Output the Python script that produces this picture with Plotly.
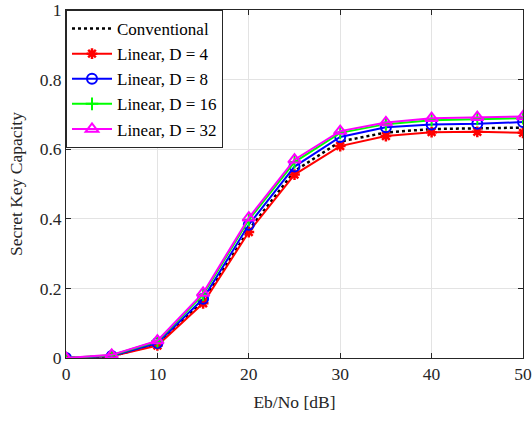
import plotly.graph_objects as go

ebno = [0, 5, 10, 15, 20, 25, 30, 35, 40, 45, 50]
conventional = [0.0, 0.005, 0.040, 0.163, 0.368, 0.537, 0.622, 0.648, 0.658, 0.660, 0.662]
linear_d4 = [0.0, 0.005, 0.036, 0.157, 0.362, 0.527, 0.609, 0.638, 0.649, 0.650, 0.647]
linear_d8 = [0.0, 0.006, 0.043, 0.170, 0.383, 0.550, 0.635, 0.663, 0.671, 0.673, 0.678]
linear_d16 = [0.0, 0.008, 0.048, 0.182, 0.397, 0.563, 0.647, 0.672, 0.683, 0.687, 0.689]
linear_d32 = [0.0, 0.009, 0.050, 0.187, 0.403, 0.570, 0.652, 0.677, 0.689, 0.692, 0.694]

font_family = "Liberation Serif, Times New Roman, serif"

fig = go.Figure()
fig.add_trace(go.Scatter(x=ebno, y=conventional, mode="lines", name="Conventional",
                         line=dict(color="black", width=2.5, dash="dot")))
fig.add_trace(go.Scatter(x=ebno, y=linear_d4, mode="lines+markers", name="Linear, D = 4",
                         line=dict(color="#ff0000", width=2),
                         marker=dict(symbol="asterisk-open", size=9, color="#ff0000",
                                     line=dict(color="#ff0000", width=2.5))))
fig.add_trace(go.Scatter(x=ebno, y=linear_d8, mode="lines+markers", name="Linear, D = 8",
                         line=dict(color="#0000ff", width=2),
                         marker=dict(symbol="circle-open", size=10, color="#0000ff",
                                     line=dict(color="#0000ff", width=2))))
fig.add_trace(go.Scatter(x=ebno, y=linear_d16, mode="lines+markers", name="Linear, D = 16",
                         line=dict(color="#00ff00", width=2),
                         marker=dict(symbol="cross-thin-open", size=9, color="#00ff00",
                                     line=dict(color="#00ff00", width=2))))
fig.add_trace(go.Scatter(x=ebno, y=linear_d32, mode="lines+markers", name="Linear, D = 32",
                         line=dict(color="#ff00ff", width=2),
                         marker=dict(symbol="triangle-up-open", size=11, color="#ff00ff",
                                     line=dict(color="#ff00ff", width=2))))

axis_common = dict(showgrid=True, gridcolor="#e3e3e3", gridwidth=1, automargin=False,
                   showline=True, linecolor="#262626", linewidth=1, mirror="ticks",
                   ticks="inside", ticklen=5, tickcolor="#262626", zeroline=False,
                   ticklabeloverflow="allow",
                   tickfont=dict(family=font_family, size=17.5, color="#262626"))

fig.update_layout(
    template="none",
    width=532, height=421,
    margin=dict(l=66, r=9, t=10, b=63, autoexpand=False),
    paper_bgcolor="white", plot_bgcolor="white",
    font=dict(family=font_family, size=17.5, color="#262626"),
    xaxis=dict(range=[0, 50], tickvals=[0, 10, 20, 30, 40, 50],
               title=dict(text="Eb/No [dB]", standoff=12, font=dict(size=17.5)), **axis_common),
    yaxis=dict(range=[0, 1], tickvals=[0, 0.2, 0.4, 0.6, 0.8, 1],
               ticktext=["0", "0.2", "0.4", "0.6", "0.8", "1"],
               title=dict(text="Secret Key Capacity", standoff=12, font=dict(size=17.5)), **axis_common),
    legend=dict(x=0, y=1, xanchor="left", yanchor="top", bgcolor="white",
                bordercolor="#262626", borderwidth=1,
                font=dict(family=font_family, size=17, color="black"),
                tracegroupgap=0, itemwidth=40),
    showlegend=True,
)

fig.write_html("out.html", config={"displayModeBar": False},
               post_script="document.body.style.margin='0';document.body.style.overflow='hidden';")
